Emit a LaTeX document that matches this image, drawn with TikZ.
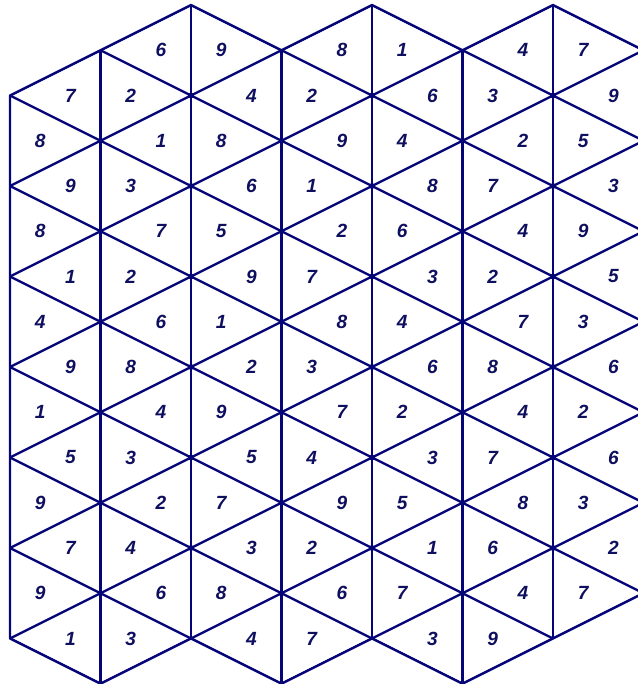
\documentclass[tikz,border=0pt]{standalone}
\usepackage{fontspec}
\newfontfamily\numfont{Liberation Sans}
\definecolor{gridblue}{RGB}{5,5,120}
\definecolor{numblue}{RGB}{15,15,95}
\begin{document}
\begin{tikzpicture}[x=1cm,y=1cm,
  gridline/.style={draw=gridblue,line width=0.72pt,line join=round},
  num/.style={font=\numfont\bfseries\itshape\fontsize{6}{7}\selectfont,text=numblue,inner sep=0pt},
  vdot/.style={fill=gridblue}]
\useasboundingbox (-0.1105,-7.503) rectangle (6.939,0.0552);
% lattice lines clipped to the region
\begin{scope}
\clip (0,-1) -- (1,-0.5) -- (2,0) -- (3,-0.5) -- (4,0) -- (5,-0.5) -- (6,0) -- (7,-0.5)
  -- (7,-6.5) -- (6,-7) -- (5,-7.5) -- (4,-7) -- (3,-7.5) -- (2,-7) -- (1,-7.5) -- (0,-7) -- cycle;
\foreach \c in {-8,...,4} \draw[gridline] (0,\c) -- (7,\c-3.5);
\foreach \c in {-11,...,1} \draw[gridline] (0,\c) -- (7,\c+3.5);
\foreach \i in {0,...,7} \draw[gridline] (\i,1) -- (\i,-8);
\end{scope}
\draw[gridline] (0,-1) -- (1,-0.5) -- (2,0) -- (3,-0.5) -- (4,0) -- (5,-0.5) -- (6,0) -- (7,-0.5)
  -- (7,-6.5) -- (6,-7) -- (5,-7.5) -- (4,-7) -- (3,-7.5) -- (2,-7) -- (1,-7.5) -- (0,-7) -- cycle;
% vertex dots
\foreach \i in {2,4,6} \foreach \j in {1,...,6} \fill[vdot] (\i,-\j) circle (0.032);
\foreach \i in {1,3,5} \foreach \j in {1,...,6} \fill[vdot] (\i,-\j-0.5) circle (0.028);
% numbers
\foreach \x/\d [count=\k] in {5/6,7/9,11/8,13/1,17/4,19/7} \node[num] (ra\k) at (\x/3,-0.5) {\d};
\foreach \x/\d [count=\k] in {2/7,4/2,8/4,10/2,14/6,16/3,20/9} \node[num] (rb\k) at (\x/3,-1) {\d};
\foreach \x/\d [count=\k] in {1/8,5/1,7/8,11/9,13/4,17/2,19/5} \node[num] (rc\k) at (\x/3,-1.5) {\d};
\foreach \x/\d [count=\k] in {2/9,4/3,8/6,10/1,14/8,16/7,20/3} \node[num] (rd\k) at (\x/3,-2) {\d};
\foreach \x/\d [count=\k] in {1/8,5/7,7/5,11/2,13/6,17/4,19/9} \node[num] (re\k) at (\x/3,-2.5) {\d};
\foreach \x/\d [count=\k] in {2/1,4/2,8/9,10/7,14/3,16/2,20/5} \node[num] (rf\k) at (\x/3,-3) {\d};
\foreach \x/\d [count=\k] in {1/4,5/6,7/1,11/8,13/4,17/7,19/3} \node[num] (rg\k) at (\x/3,-3.5) {\d};
\foreach \x/\d [count=\k] in {2/9,4/8,8/2,10/3,14/6,16/8,20/6} \node[num] (rh\k) at (\x/3,-4) {\d};
\foreach \x/\d [count=\k] in {1/1,5/4,7/9,11/7,13/2,17/4,19/2} \node[num] (ri\k) at (\x/3,-4.5) {\d};
\foreach \x/\d [count=\k] in {2/5,4/3,8/5,10/4,14/3,16/7,20/6} \node[num] (rj\k) at (\x/3,-5) {\d};
\foreach \x/\d [count=\k] in {1/9,5/2,7/7,11/9,13/5,17/8,19/3} \node[num] (rk\k) at (\x/3,-5.5) {\d};
\foreach \x/\d [count=\k] in {2/7,4/4,8/3,10/2,14/1,16/6,20/2} \node[num] (rl\k) at (\x/3,-6) {\d};
\foreach \x/\d [count=\k] in {1/9,5/6,7/8,11/6,13/7,17/4,19/7} \node[num] (rm\k) at (\x/3,-6.5) {\d};
\foreach \x/\d [count=\k] in {2/1,4/3,8/4,10/7,14/3,16/9} \node[num] (rn\k) at (\x/3,-7) {\d};
\end{tikzpicture}
\end{document}
